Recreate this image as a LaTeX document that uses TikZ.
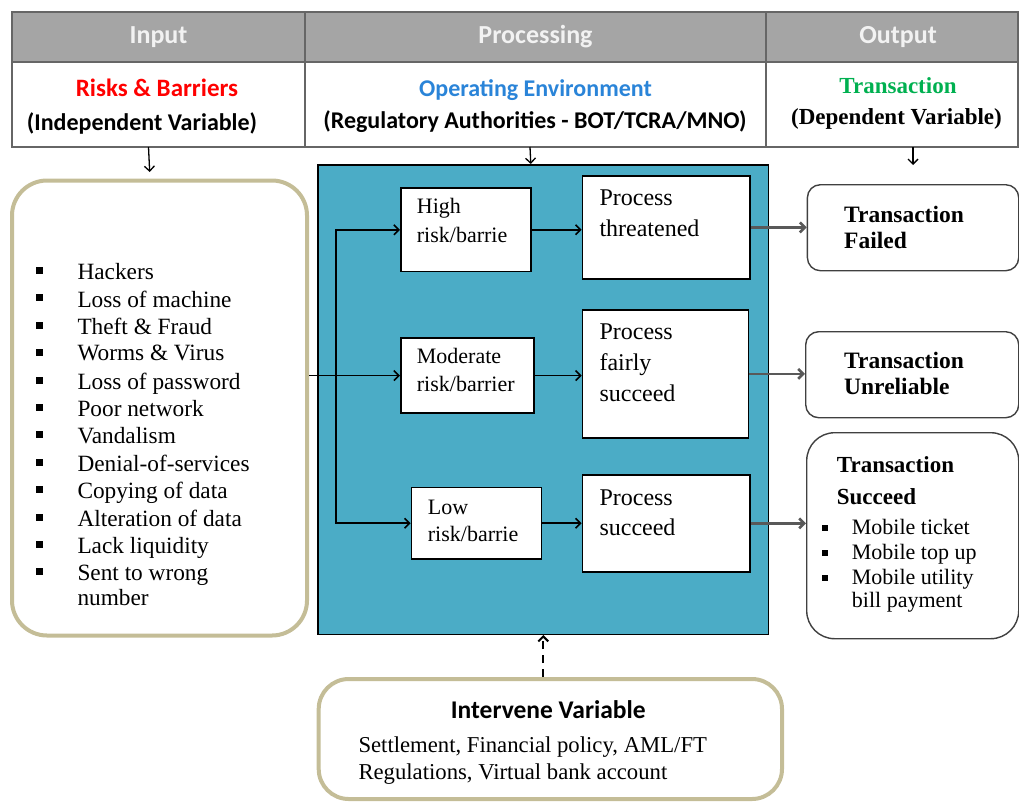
\documentclass[tikz,border=0pt]{standalone}
\usepackage{fontspec}
\setmainfont{Liberation Serif}
\newfontfamily\calibri{Carlito}
\usetikzlibrary{arrows.meta}
\definecolor{hdrgray}{HTML}{A5A5A5}
\definecolor{tanline}{HTML}{C4BD97}
\definecolor{envblue}{HTML}{4BACC6}
\definecolor{opblue}{HTML}{2A84D8}
\definecolor{trgreen}{HTML}{00B050}

\begin{document}
\begin{tikzpicture}[x=1pt,y=-1pt,
	cell/.style={draw=black!60,line width=1.2pt,anchor=north west,inner sep=0pt,outer sep=0pt},
	hdr/.style={cell,fill=hdrgray,minimum height=50pt,text=white!95!black,
		font=\calibri\bfseries\fontsize{26}{30}\selectfont,text height=17pt,text depth=5pt},
	sub/.style={anchor=base,inner sep=0pt,font=\calibri\bfseries\fontsize{24}{28}\selectfont},
	roundbox/.style={draw=tanline,line width=4pt,rounded corners=35pt,fill=white,anchor=north west,inner sep=0pt},
	riskbox/.style={draw,line width=1.5pt,fill=white,anchor=north west,inner sep=0pt},
	outbox/.style={draw=black!75,line width=1.4pt,rounded corners=13pt,fill=white,anchor=north west,inner sep=0pt},
	txt/.style={anchor=north west,inner sep=0pt,align=left},
	flow/.style={-{Straight Barb[length=5pt,width=10pt]},line width=1.6pt},
	outflow/.style={flow,draw=black!65,line width=2.6pt}]
	\useasboundingbox (0,0) rectangle (1019,801);
	\node[hdr,minimum width=293pt] (inhd) at (12,12) {Input};
	\node[hdr,minimum width=461pt] (prochd) at (305,12) {Processing};
	\node[hdr,minimum width=252pt] (outhd) at (766,12) {\hspace{12pt}Output};
	\node[cell,minimum width=293pt,minimum height=85pt] (incell) at (12,62) {};
	\node[cell,minimum width=461pt,minimum height=85pt] (proccell) at (305,62) {};
	\node[cell,minimum width=252pt,minimum height=85pt] (outcell) at (766,62) {};
	\node[sub,text=red,font=\calibri\bfseries\fontsize{25}{30}\selectfont] (riskhd) at (157,96) {Risks \& Barriers};
	\node[sub] (indep) at (142,130.5) {(Independent Variable)};
	\node[sub,text=opblue] (envhd) at (535.5,96) {Operating Environment};
	\node[sub] (regul) at (535,128) {(Regulatory Authorities - BOT/TCRA/MNO)};
	\node[sub,text=trgreen,font=\bfseries\fontsize{23}{26}\selectfont] (transhd) at (898,93.5) {Transaction};
	\node[sub,font=\bfseries\fontsize{23}{26}\selectfont] (dep) at (896.5,124) {(Dependent Variable)};

	\node[roundbox,minimum width=295pt,minimum height=455pt] (risks) at (10,178.5) {};
	\foreach \t [count=\k from 0] in {Hackers,Loss of machine,Theft \& Fraud,Worms \& Virus,
		Loss of password,Poor network,Vandalism,Denial-of-services,Copying of data,
		Alteration of data,Lack liquidity,{Sent to wrong\\number}}{
		\fill (36,267+27.4*\k) rectangle ++(6.7,7);
		\node[txt,font=\fontsize{23.3}{25}\selectfont] (risk\k) at (77.3,263*1+27.4*\k) {\t};
	}

	\node[draw,line width=1.5pt,fill=envblue,anchor=north west,inner sep=0pt,
		minimum width=450.5pt,minimum height=469.5pt] (env) at (317.3,164) {};
	\node[riskbox,minimum width=130pt,minimum height=83.4pt] (high) at (400,187.3) {};
	\node[riskbox,minimum width=133.3pt,minimum height=75pt] (mod) at (400,337.3) {};
	\node[riskbox,minimum width=130pt,minimum height=71.6pt] (low) at (410.7,486.7) {};
	\node[riskbox,minimum width=167.6pt,minimum height=103.3pt] (pthr) at (581.7,175) {};
	\node[riskbox,minimum width=166pt,minimum height=128.3pt] (pfair) at (581.7,309) {};
	\node[riskbox,minimum width=167.6pt,minimum height=96.7pt] (psucc) at (581.7,474.3) {};
	\node[txt,font=\fontsize{22}{28.5}\selectfont] (hight) at (416.7,198.5) {High\\risk/barrie};
	\node[txt,font=\fontsize{22}{28.5}\selectfont] (modt) at (416.7,348) {Moderate\\risk/barrier};
	\node[txt,font=\fontsize{22}{27}\selectfont] (lowt) at (427.7,499.5) {Low\\risk/barrie};
	\node[txt,font=\fontsize{24}{30.5}\selectfont] (pthrt) at (599.3,190) {Process\\threatened};
	\node[txt,font=\fontsize{24}{30.8}\selectfont] (pfairt) at (599.3,323.7) {Process\\fairly\\succeed};
	\node[txt,font=\fontsize{24}{30.5}\selectfont] (psucct) at (599.3,489.4) {Process\\succeed};

	\node[outbox,minimum width=211.3pt,minimum height=86pt] (fail) at (806.7,184) {};
	\node[outbox,minimum width=213pt,minimum height=86pt] (unrel) at (805,331) {};
	\node[outbox,rounded corners=28pt,minimum width=212pt,minimum height=206pt] (succ) at (806,432) {};
	\node[txt,font=\bfseries\fontsize{23.5}{26.6}\selectfont] (failt) at (844,205.5) {Transaction\\Failed};
	\node[txt,font=\bfseries\fontsize{23.5}{26}\selectfont] (unrelt) at (844,351.5) {Transaction\\Unreliable};
	\node[txt,font=\bfseries\fontsize{23}{32.3}\selectfont] (succt) at (836.7,456) {Transaction\\Succeed};
	\foreach \t [count=\k from 0] in {Mobile ticket,Mobile top up,{Mobile utility\\bill payment}}{
		\fill (822,525+25*\k) rectangle ++(5.5,6);
		\node[txt,font=\fontsize{22}{23.5}\selectfont] (mob\k) at (851.7,519+25*\k) {\t};
	}

	\node[roundbox,rounded corners=30pt,minimum width=463.3pt,minimum height=120pt] (iv) at (316.7,677) {};
	\node[sub,font=\calibri\bfseries\fontsize{25.5}{30}\selectfont] (ivt) at (548.3,718.3) {Intervene Variable};
	\node[txt,font=\fontsize{22.7}{26.6}\selectfont] (ivtxt) at (358.3,736.5)
		{Settlement, Financial policy, AML/FT\\Regulations, Virtual bank account};

	\draw[flow,line width=1.3pt,shorten >=6.5pt] ([xshift=-10pt]incell.south) -- ([xshift=-9.5pt]risks.north);
	\draw[flow,line width=1.3pt] ([xshift=-5.5pt]proccell.south) -- ([xshift=-12.5pt]env.north);
	\draw[flow,line width=1.3pt,shorten >=19pt] (outcell.south -| fail.north) -- (fail.north);
	\coordinate (fork) at (335.7,374.8);
	\draw[flow] (risks.east |- mod.west) -- (mod.west);
	\draw[flow] (fork) |- (high.west);
	\draw[flow] (fork) |- (low.west);
	\draw[flow] (high.east) -- (high.east -| pthr.west);
	\draw[flow] (mod.east) -- (mod.east -| pfair.west);
	\draw[flow] (low.east) -- (low.east -| psucc.west);
	\draw[outflow] (pthr.east) -- (pthr.east -| fail.west);
	\draw[outflow] (pfair.east) -- (pfair.east -| unrel.west);
	\draw[outflow] (psucc.east) -- (psucc.east -| succ.west);
	\draw[flow,line width=2pt,dash pattern=on 8pt off 6pt] (env.south |- iv.north) -- (env.south);
\end{tikzpicture}
\end{document}
